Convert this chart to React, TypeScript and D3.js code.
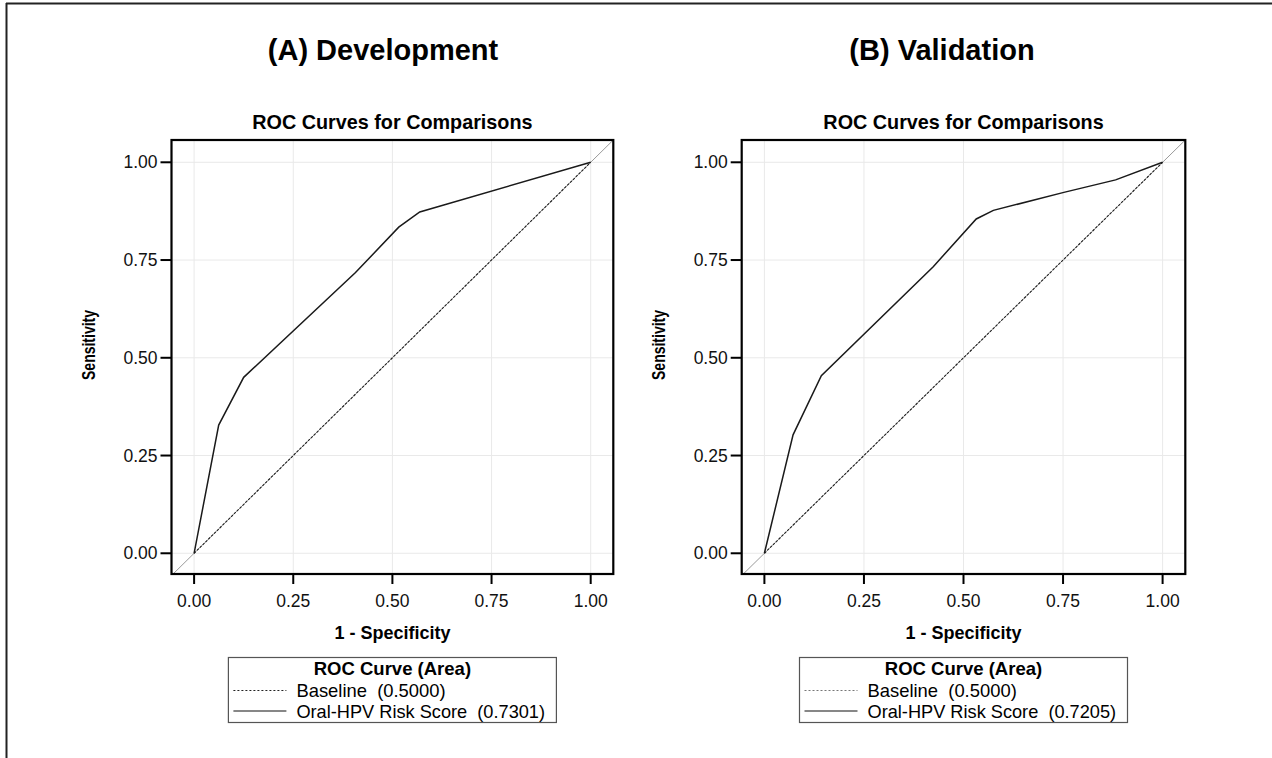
import * as d3 from "d3";
import React from "react";

// ROC points
const devSpec = [0, 0.062, 0.125, 0.407, 0.516, 0.569, 1];
const devSens = [0, 0.328, 0.45, 0.718, 0.834, 0.873, 1];
const valSpec = [0, 0.072, 0.143, 0.424, 0.532, 0.575, 0.752, 0.882, 1];
const valSens = [0, 0.303, 0.454, 0.733, 0.855, 0.877, 0.923, 0.955, 1];

const baseline = [0, 1];
const tickValues = [0, 0.25, 0.5, 0.75, 1];
const panelTitles = ["(A) Development", "(B) Validation"];
const areas = ["0.7301", "0.7205"];
const baselineArea = "0.5000";

const font = "'Liberation Sans', Arial, Helvetica, sans-serif";
const fmt = d3.format(".2f");

function Panel({ left, right, titleX, title, spec, sens, area, legendDash }) {
  const top = 140;
  const bottom = 574;
  const x = d3.scaleLinear([-0.057, 1.057], [left, right]);
  const y = d3.scaleLinear([-0.053, 1.057], [bottom, top]);
  const cx = (left + right) / 2;
  const line = d3
    .line()
    .x((d) => x(d[0]))
    .y((d) => y(d[1]));
  const curve = line(spec.map((s, i) => [s, sens[i]]));
  const base = line(baseline.map((b) => [b, b]));
  const diag = line([
    [-0.06, -0.06],
    [1.06, 1.06],
  ]);
  const clipId = `clip-${Math.round(left)}`;
  const legL = cx - 164;
  return (
    <g fontFamily={font}>
      <text x={titleX} y={60} textAnchor="middle" fontSize={29} fontWeight="bold">
        {title}
      </text>
      <text x={cx} y={129} textAnchor="middle" fontSize={19.8} fontWeight="bold">
        ROC Curves for Comparisons
      </text>
      <clipPath id={clipId}>
        <rect x={left} y={top} width={right - left} height={bottom - top} />
      </clipPath>
      {tickValues.map((t) => (
        <g key={"g" + t}>
          <line x1={x(t)} x2={x(t)} y1={top} y2={bottom} stroke="#e9e9e9" />
          <line x1={left} x2={right} y1={y(t)} y2={y(t)} stroke="#e9e9e9" />
        </g>
      ))}
      <g clipPath={`url(#${clipId})`}>
        <path d={diag} fill="none" stroke="#9a9a9a" strokeWidth={1} />
        <path d={base} fill="none" stroke="#222" strokeWidth={1.1} strokeDasharray="2.5,1.5" />
        <path d={curve} fill="none" stroke="#1a1a1a" strokeWidth={1.5} />
      </g>
      <rect x={left} y={top} width={right - left} height={bottom - top} fill="none" stroke="#000" strokeWidth={2.2} />
      {tickValues.map((t) => (
        <g key={"t" + t}>
          <line x1={x(t)} x2={x(t)} y1={bottom} y2={bottom + 10} stroke="#000" strokeWidth={2} />
          <text x={x(t)} y={607} textAnchor="middle" fontSize={17.5} fill="#111">
            {fmt(t)}
          </text>
          <line x1={left - 11} x2={left} y1={y(t)} y2={y(t)} stroke="#000" strokeWidth={2} />
          <text x={left - 14} y={y(t) + 6} textAnchor="end" fontSize={17.5} fill="#111">
            {fmt(t)}
          </text>
        </g>
      ))}
      <text x={cx} y={639} textAnchor="middle" fontSize={18} fontWeight="bold">
        1 - Specificity
      </text>
      <text
        transform={`translate(${left - 77},345) rotate(-90) scale(1,1.25)`}
        textAnchor="middle"
        fontSize={14}
        fontWeight="bold"
      >
        Sensitivity
      </text>
      <rect x={legL} y={657.5} width={328} height={65} fill="none" stroke="#555" strokeWidth={1.2} />
      <text x={cx} y={675} textAnchor="middle" fontSize={18.5} fontWeight="bold">
        ROC Curve (Area)
      </text>
      <line x1={legL + 5} x2={legL + 58} y1={690.5} y2={690.5} stroke={legendDash} strokeWidth={1} strokeDasharray="2,2" />
      <text x={legL + 68} y={696.5} fontSize={18.4} style={{ whiteSpace: "pre" }}>
        {`Baseline  (${baselineArea})`}
      </text>
      <line x1={legL + 5} x2={legL + 58} y1={711} y2={711} stroke="#111" strokeWidth={1.2} />
      <text x={legL + 68} y={717.5} fontSize={18.2} style={{ whiteSpace: "pre" }}>
        {`Oral-HPV Risk Score  (${area})`}
      </text>
    </g>
  );
}

export default function App() {
  return (
    <svg
      width={1272}
      height={758}
      style={{ position: "absolute", left: 0, top: 0, background: "#fff" }}
    >
      <rect x={0} y={0} width={1272} height={758} fill="#fff" />
      <line x1={6} x2={1272} y1={3.5} y2={3.5} stroke="#222" strokeWidth={2} />
      <line x1={6.5} x2={6.5} y1={3} y2={758} stroke="#222" strokeWidth={2} />
      <Panel
        left={171.5}
        right={613.3}
        titleX={383}
        title={panelTitles[0]}
        spec={devSpec}
        sens={devSens}
        area={areas[0]}
        legendDash="#222"
      />
      <Panel
        left={741.7}
        right={1185.3}
        titleX={942}
        title={panelTitles[1]}
        spec={valSpec}
        sens={valSens}
        area={areas[1]}
        legendDash="#777"
      />
    </svg>
  );
}
